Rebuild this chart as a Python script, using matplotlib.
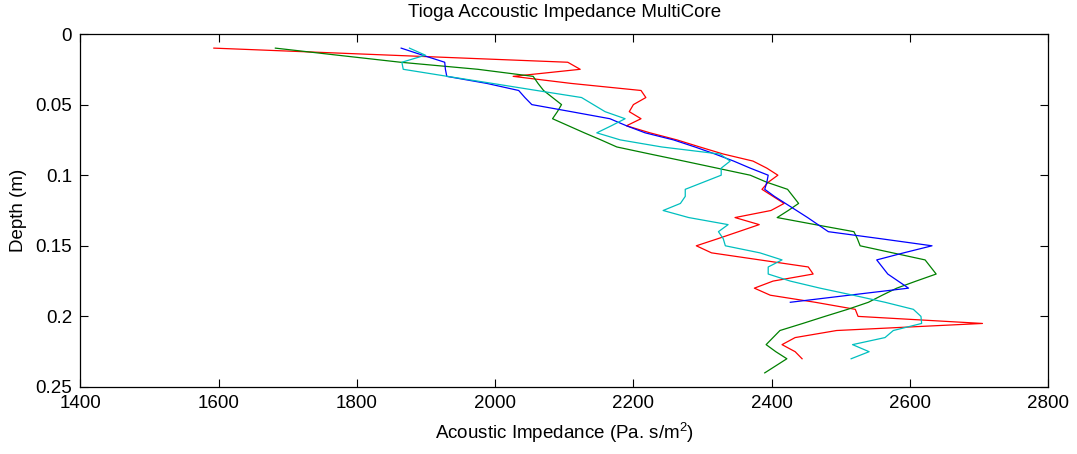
import matplotlib.pyplot as plt

plt.rcParams['font.family'] = ['Liberation Sans', 'DejaVu Sans']
plt.rcParams['mathtext.fontset'] = 'custom'
plt.rcParams['mathtext.rm'] = 'Liberation Sans'

# depth of each sample (m), one list per core
depth_red = [0.01, 0.015, 0.02, 0.025, 0.03, 0.035, 0.04, 0.045, 0.05, 0.055,
             0.06, 0.065, 0.07, 0.075, 0.08, 0.085, 0.09, 0.095, 0.10, 0.105,
             0.11, 0.115, 0.12, 0.125, 0.13, 0.135, 0.14, 0.145, 0.15, 0.155,
             0.16, 0.165, 0.17, 0.175, 0.18, 0.185, 0.19, 0.195, 0.20, 0.205,
             0.21, 0.215, 0.22, 0.225, 0.23]
imp_red = [1593, 1849, 2105, 2123, 2026, 2110, 2211, 2218, 2200, 2194,
           2211, 2190, 2224, 2263, 2296, 2330, 2373, 2393, 2409, 2395,
           2386, 2402, 2418, 2399, 2347, 2382, 2352, 2322, 2291, 2313,
           2383, 2453, 2460, 2402, 2375, 2398, 2463, 2521, 2525, 2705,
           2494, 2434, 2415, 2434, 2444]

depth_green = [0.01, 0.015, 0.02, 0.025, 0.03, 0.035, 0.04, 0.045, 0.05, 0.055,
               0.06, 0.065, 0.07, 0.075, 0.08, 0.085, 0.09, 0.095, 0.10, 0.105,
               0.11, 0.115, 0.12, 0.125, 0.13, 0.135, 0.14, 0.145, 0.15, 0.155,
               0.16, 0.165, 0.17, 0.175, 0.18, 0.185, 0.19, 0.195, 0.20, 0.205,
               0.21, 0.215, 0.22, 0.225, 0.23, 0.235, 0.24]
imp_green = [1682, 1772, 1863, 1975, 2055, 2062, 2070, 2083, 2096, 2090,
             2083, 2106, 2129, 2153, 2176, 2224, 2273, 2321, 2369, 2393,
             2423, 2431, 2439, 2424, 2408, 2463, 2519, 2524, 2528, 2575,
             2622, 2630, 2638, 2609, 2581, 2560, 2540, 2510, 2477, 2445,
             2412, 2402, 2392, 2406, 2422, 2406, 2390]

depth_blue = [0.01, 0.015, 0.02, 0.025, 0.03, 0.035, 0.04, 0.045, 0.05, 0.055,
              0.06, 0.065, 0.07, 0.075, 0.08, 0.085, 0.09, 0.095, 0.10, 0.105,
              0.11, 0.115, 0.12, 0.125, 0.13, 0.135, 0.14, 0.145, 0.15, 0.155,
              0.16, 0.165, 0.17, 0.175, 0.18, 0.185, 0.19]
imp_blue = [1864, 1895, 1927, 1928, 1930, 1988, 2034, 2043, 2053, 2110,
            2166, 2190, 2217, 2258, 2289, 2318, 2345, 2369, 2395, 2393,
            2390, 2404, 2420, 2436, 2452, 2467, 2482, 2558, 2632, 2591,
            2552, 2560, 2568, 2583, 2598, 2512, 2427]

depth_cyan = [0.01, 0.015, 0.02, 0.025, 0.03, 0.035, 0.04, 0.045, 0.05, 0.055,
              0.06, 0.065, 0.07, 0.075, 0.08, 0.085, 0.09, 0.095, 0.10, 0.105,
              0.11, 0.115, 0.12, 0.125, 0.13, 0.135, 0.14, 0.145, 0.15, 0.155,
              0.16, 0.165, 0.17, 0.175, 0.18, 0.185, 0.19, 0.195, 0.20, 0.205,
              0.21, 0.215, 0.22, 0.225, 0.23]
imp_cyan = [1876, 1899, 1865, 1867, 1931, 1996, 2060, 2125, 2142, 2159,
            2188, 2168, 2147, 2181, 2241, 2325, 2340, 2327, 2327, 2301,
            2275, 2275, 2268, 2243, 2280, 2337, 2323, 2330, 2333, 2383,
            2415, 2395, 2395, 2427, 2470, 2518, 2564, 2605, 2616, 2617,
            2576, 2564, 2517, 2541, 2515]

x_ticks = [1400, 1600, 1800, 2000, 2200, 2400, 2600, 2800]
y_ticks = [0, 0.05, 0.1, 0.15, 0.2, 0.25]
y_tick_labels = ['0', '0.05', '0.1', '0.15', '0.2', '0.25']

fig = plt.figure(figsize=(10.77, 4.54), dpi=100)
ax = fig.add_axes([0.0747, 0.1476, 0.8985, 0.7775])

ax.plot(imp_red, depth_red, color='red', lw=0.9)
ax.plot(imp_green, depth_green, color=(0, 0.5, 0), lw=0.9)
ax.plot(imp_blue, depth_blue, color='blue', lw=0.9)
ax.plot(imp_cyan, depth_cyan, color=(0, 0.75, 0.75), lw=0.9)

ax.set_xlim(1400, 2800)
ax.set_ylim(0.25, 0)
ax.set_xticks(x_ticks)
ax.set_yticks(y_ticks)
ax.set_yticklabels(y_tick_labels)
ax.tick_params(direction='in', length=6, width=0.8, labelsize=13.5,
               top=True, right=True, pad=6)
for s in ax.spines.values():
    s.set_linewidth(0.9)

ax.set_title('Tioga Accoustic Impedance MultiCore', fontsize=13.5, pad=12)
ax.set_xlabel('Acoustic Impedance (Pa. s/m$^2$)', fontsize=13.5, labelpad=6)
ax.set_ylabel('Depth (m)', fontsize=13.5, labelpad=6)

fig.savefig('out.png', dpi=100)
